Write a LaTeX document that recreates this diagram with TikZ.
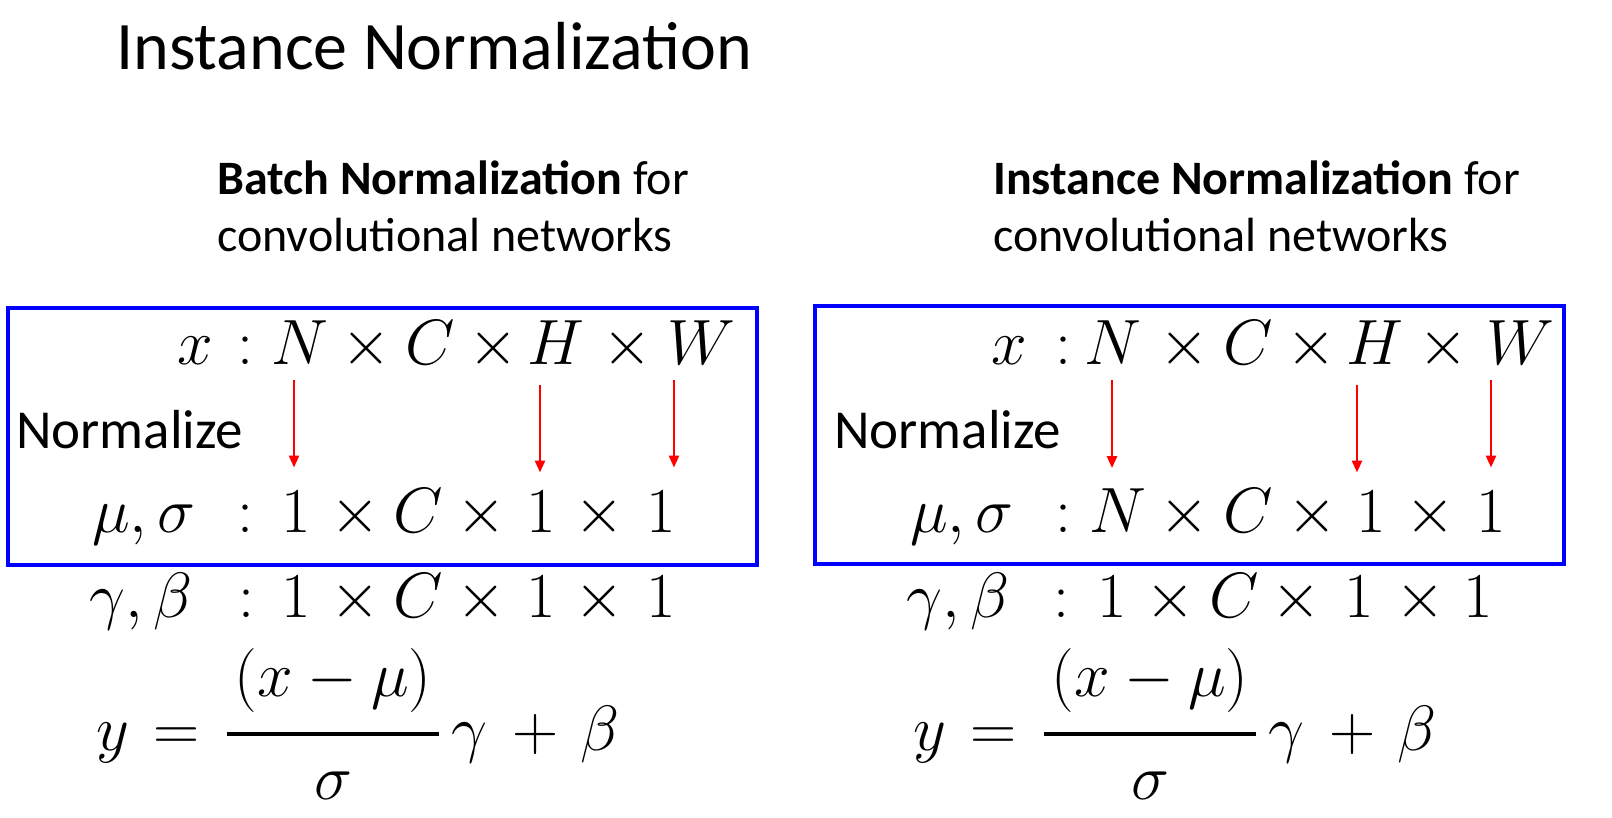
\RequirePackage{fix-cm}
\documentclass[tikz,border=0pt]{standalone}
\usepackage{fontspec}
\newfontfamily\calibri{Carlito}
\usetikzlibrary{arrows.meta, calc}

\begin{document}
\begin{tikzpicture}[x=1pt, y=-1pt,
    % one symbol of a formula, sitting on its baseline
    tok/.style={anchor=base, inner sep=0pt, font=\fontsize{64}{64}\selectfont},
    heading/.style={anchor=base west, inner sep=0pt, font=\calibri\fontsize{48}{58}\selectfont},
    normtext/.style={anchor=base west, inner sep=0pt, font=\calibri\fontsize{55}{55}\selectfont},
    normbox/.style={draw=blue, line width=3.5pt},
    redarr/.style={draw=red, line width=2.5pt, -{Triangle[length=12pt, width=10pt]}}
]
\useasboundingbox (0,0) rectangle (1612,818);

% Title
\node[anchor=base west, inner sep=0pt, font=\calibri\fontsize{68}{68}\selectfont] (title) at (116,70) {Instance Normalization};

% Headings
\node[heading] (bnhead) at (217,195) {\textbf{Batch Normalization} for};
\node[heading] (bnsub) at (217,252) {convolutional networks};
\node[heading] (inhead) at (993,195) {\textbf{Instance Normalization} for};
\node[heading] (insub) at (993,252) {convolutional networks};

% Boxes
\draw[normbox] (8,308) rectangle (757,565);
\draw[normbox] (815,306) rectangle (1564,564);

% Left: batch norm
\foreach \t/\px/\nm in {x/195/lx, :/245/lc1, N/300/lN, \times/366/lt1, C/430/lC, \times/493/lt2, H/556/lH, \times/627/lt3, W/701/lW}
  \node[tok] (\nm) at (\px,364) {$\t$};
\node[normtext] (lnorm) at (16,448) {Normalize};
\node[tok, anchor=base east] (lms) at (196,532) {$\mu,\sigma$};
\foreach \t/\px/\nm in {:/245/lc3, 1/296/lo1, \times/355/lt4, C/418/lC3, \times/481/lt5, 1/541/lo2, \times/599/lt6, 1/661/lo3}
  \node[tok] (\nm) at (\px,532) {$\t$};
\node[tok, anchor=base east] (lgb) at (193,617) {$\gamma,\beta$};
\foreach \t/\px/\nm in {:/246/lc4, 1/296/lg1, \times/355/lt7, C/418/lC4, \times/481/lt8, 1/541/lg2, \times/599/lt9, 1/661/lg3}
  \node[tok] (\nm) at (\px,617) {$\t$};
\foreach \t/\px/\nm in {y/113/ly, =/177/leq, \gamma/469/lgam, +/536/lplus, \beta/600/lbeta}
  \node[tok] (\nm) at (\px,750) {$\t$};
\node[tok] (lfrac) at (333,750) {$\displaystyle{\kern8pt(x-\mu)\kern8pt\rule[-0.36em]{0pt}{0.36em} \above 4pt \rule{0pt}{0.81em}\sigma}$};

% Left arrows
\draw[redarr] ($(lo1.north |- lN.south)+(-2,16)$) -- ($(lo1.north)+(-2,-23)$);
\draw[redarr] ($(lo2.north |- lH.south)+(-1,21)$) -- ($(lo2.north)+(-1,-18)$);
\draw[redarr] ($(lo3.north |- lW.south)+(13,16)$) -- ($(lo3.north)+(13,-23)$);

% Right: instance norm
\foreach \t/\px/\nm in {x/1009/rx, :/1063/rc1, N/1113/rN, \times/1184/rt1, C/1248/rC, \times/1311/rt2, H/1375/rH, \times/1443/rt3, W/1520/rW}
  \node[tok] (\nm) at (\px,364) {$\t$};
\node[normtext] (rnorm) at (834,448) {Normalize};
\node[tok, anchor=base east] (rms) at (1014,532) {$\mu,\sigma$};
\foreach \t/\px/\nm in {:/1063/rc3, N/1118/rN3, \times/1184/rt4, C/1248/rC3, \times/1312/rt5, 1/1371/ro2, \times/1430/rt6, 1/1491/ro3}
  \node[tok] (\nm) at (\px,532) {$\t$};
\node[tok, anchor=base east] (rgb) at (1010,617) {$\gamma,\beta$};
\foreach \t/\px/\nm in {:/1061/rc4, 1/1112/rg1, \times/1170/rt7, C/1234/rC4, \times/1296/rt8, 1/1359/rg2, \times/1420/rt9, 1/1478/rg3}
  \node[tok] (\nm) at (\px,617) {$\t$};
\foreach \t/\px/\nm in {y/930/ry, =/994/req, \gamma/1286/rgam, +/1353/rplus, \beta/1417/rbeta}
  \node[tok] (\nm) at (\px,750) {$\t$};
\node[tok] (rfrac) at (1150,750) {$\displaystyle{\kern8pt(x-\mu)\kern8pt\rule[-0.36em]{0pt}{0.36em} \above 4pt \rule{0pt}{0.81em}\sigma}$};

% Right arrows
\draw[redarr] ($(rN3.north |- rN.south)+(-6,16)$) -- ($(rN3.north)+(-6,-20)$);
\draw[redarr] ($(ro2.north |- rH.south)+(-14,21)$) -- ($(ro2.north)+(-14,-18)$);
\draw[redarr] ($(ro3.north |- rW.south)+(0,16)$) -- ($(ro3.north)+(0,-23)$);

\end{tikzpicture}
\end{document}
